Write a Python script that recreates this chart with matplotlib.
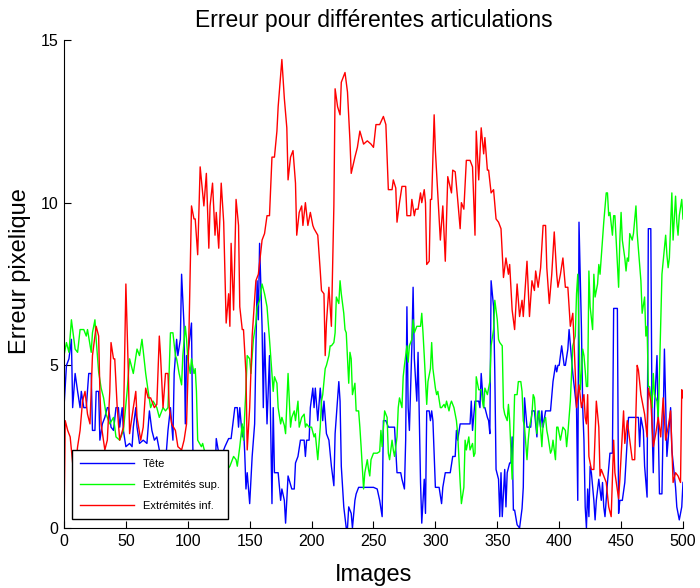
import matplotlib
matplotlib.use('Agg')
import matplotlib.pyplot as plt

plt.rcParams['font.family'] = ['Liberation Sans', 'DejaVu Sans']

# Tete (head) error: image index, pixel error
tete_x = [0, 2, 4, 6, 7, 9, 11, 13, 14, 16, 18, 20, 22, 23, 25, 26, 28, 29, 31, 33,
          35, 36, 38, 40, 42, 44, 45, 47, 48, 50, 53, 55, 56, 58, 59, 61, 64, 67, 69, 71,
          73, 75, 77, 80, 82, 84, 86, 88, 89, 91, 92, 94, 95, 97, 98, 99, 100, 103, 104, 105,
          108, 110, 113, 116, 119, 121, 123, 125, 128, 130, 133, 135, 138, 140, 141, 142, 144, 145, 146, 147,
          148, 150, 152, 154, 156, 157, 158, 160, 161, 162, 164, 166, 168, 169, 170, 173, 175, 176, 178, 179,
          181, 184, 186, 187, 189, 191, 194, 195, 196, 198, 199, 201, 202, 203, 205, 207, 209, 210, 212, 214,
          216, 218, 219, 222, 223, 224, 226, 228, 229, 230, 232, 233, 235, 236, 238, 242, 250, 253, 255, 257,
          258, 260, 262, 267, 269, 272, 273, 275, 276, 277, 278, 279, 281, 282, 283, 285, 286, 288, 289, 291,
          292, 293, 295, 296, 297, 298, 300, 303, 305, 306, 308, 312, 314, 316, 317, 318, 320, 326, 328, 329,
          330, 332, 335, 336, 337, 339, 340, 342, 343, 344, 345, 347, 348, 349, 351, 352, 353, 354, 356, 357,
          358, 360, 361, 362, 363, 364, 366, 368, 370, 371, 372, 374, 375, 377, 378, 380, 382, 383, 385, 386,
          387, 389, 391, 393, 395, 397, 398, 399, 400, 402, 404, 405, 407, 408, 410, 411, 414, 415, 416, 418,
          419, 420, 421, 422, 423, 424, 425, 426, 428, 429, 430, 432, 434, 435, 436, 437, 439, 441, 443, 444,
          446, 447, 448, 449, 451, 453, 455, 456, 458, 461, 464, 465, 466, 468, 469, 471, 472, 474, 475, 476,
          477, 479, 480, 481, 483, 485, 487, 488, 490, 491, 494, 495, 497, 499, 500]
tete_y = [3.7, 5.0, 5.2, 5.8, 3.7, 4.75, 4.2, 3.7, 4.2, 3.7, 3.7, 4.75, 4.75, 3.0, 3.0, 4.2, 4.2, 2.7, 3.2, 3.4,
          3.7, 3.7, 3.1, 3.0, 3.7, 3.7, 3.1, 3.7, 3.0, 2.5, 2.6, 2.5, 3.1, 3.7, 3.1, 2.6, 2.7, 2.6, 3.6, 3.0,
          2.7, 2.8, 2.4, 2.2, 2.0, 3.0, 3.7, 2.7, 4.75, 5.8, 5.3, 5.8, 7.8, 6.2, 3.2, 5.3, 5.3, 6.3, 2.7, 0.35,
          0.5, 0.3, 0.4, 0.3, 0.5, 0.3, 2.75, 2.3, 2.3, 2.5, 2.75, 2.75, 3.7, 3.7, 3.1, 3.7, 2.8, 3.1, 2.3, 1.2,
          1.7, 0.75, 2.2, 3.2, 7.6, 6.4, 8.75, 6.2, 3.7, 6.0, 3.2, 5.3, 0.75, 3.7, 1.7, 1.7, 0.85, 1.2, 0.85, 0.15,
          1.6, 1.2, 1.2, 2.0, 2.2, 2.7, 2.7, 2.2, 2.7, 2.7, 3.7, 4.3, 3.7, 4.3, 3.3, 4.3, 3.3, 3.9, 2.9, 2.7,
          1.9, 1.3, 2.9, 4.5, 3.9, 1.9, 0.65, 0.0, 0.0, 0.65, 0.45, 0.0, 0.85, 1.05, 1.25, 1.25, 1.25, 1.2, 0.85, 0.35,
          3.3, 3.3, 3.1, 3.1, 1.7, 1.7, 1.5, 1.2, 2.7, 6.8, 3.7, 3.0, 5.6, 7.4, 5.2, 3.9, 5.4, 1.4, 0.15, 1.5,
          0.45, 3.6, 3.6, 3.3, 3.6, 3.3, 1.25, 1.25, 0.75, 1.25, 1.7, 1.7, 2.2, 2.2, 3.0, 2.7, 3.2, 3.2, 3.2, 3.9,
          3.0, 3.9, 3.9, 3.7, 4.75, 3.7, 3.7, 3.4, 3.3, 2.9, 7.6, 6.8, 4.75, 1.8, 1.5, 0.35, 1.7, 0.35, 1.8, 0.65,
          1.7, 2.0, 2.0, 2.8, 0.55, 0.55, 0.1, 0.0, 0.6, 1.25, 4.0, 3.1, 3.1, 3.1, 3.6, 3.6, 2.8, 3.6, 3.1, 3.6,
          3.1, 3.6, 3.6, 3.6, 4.5, 5.0, 4.8, 5.0, 5.0, 5.6, 5.0, 5.0, 5.5, 6.1, 5.2, 4.75, 3.7, 0.85, 9.4, 6.1,
          3.7, 2.7, 0.65, 0.0, 1.2, 0.35, 1.9, 1.7, 0.85, 0.25, 0.85, 1.5, 0.85, 1.4, 0.65, 0.35, 1.4, 2.3, 2.3, 6.75,
          6.75, 6.75, 0.45, 0.85, 0.85, 1.4, 2.7, 3.4, 3.4, 3.4, 3.4, 2.5, 3.4, 3.0, 1.9, 0.95, 9.2, 9.2, 3.2, 1.7,
          3.7, 5.3, 3.1, 1.05, 1.05, 5.5, 2.2, 2.7, 3.7, 2.4, 1.25, 0.65, 0.25, 0.65, 1.4]

# Extremites sup. (upper limbs)
sup_x = [0, 2, 4, 6, 7, 9, 11, 13, 15, 16, 18, 19, 22, 23, 25, 26, 28, 30, 32, 34,
         37, 40, 42, 45, 48, 51, 53, 56, 59, 61, 63, 66, 68, 70, 72, 75, 77, 80, 82, 84,
         86, 88, 90, 91, 93, 95, 96, 98, 99, 100, 102, 103, 105, 106, 107, 108, 111, 112, 114, 117,
         120, 125, 130, 132, 134, 137, 139, 140, 142, 144, 145, 147, 148, 150, 151, 153, 155, 156, 158, 160,
         162, 164, 166, 168, 169, 170, 172, 173, 175, 176, 178, 179, 181, 183, 184, 186, 187, 189, 190, 192,
         194, 195, 196, 198, 200, 202, 203, 205, 207, 208, 209, 211, 212, 214, 215, 216, 218, 219, 220, 222,
         223, 224, 226, 227, 228, 230, 231, 232, 233, 235, 236, 238, 239, 240, 242, 243, 245, 246, 247, 248,
         250, 253, 255, 256, 257, 259, 261, 262, 263, 265, 266, 267, 269, 270, 271, 273, 274, 275, 277, 278,
         279, 281, 282, 283, 285, 286, 288, 289, 290, 291, 293, 294, 296, 297, 298, 300, 301, 302, 304, 305,
         307, 308, 309, 311, 312, 313, 315, 316, 317, 318, 320, 321, 323, 324, 325, 327, 328, 330, 331, 332,
         333, 335, 337, 338, 339, 340, 342, 343, 344, 345, 347, 348, 350, 351, 352, 354, 355, 356, 358, 359,
         360, 362, 363, 364, 366, 367, 369, 370, 371, 372, 374, 375, 376, 378, 379, 380, 382, 383, 384, 386,
         387, 389, 390, 391, 393, 394, 395, 397, 398, 399, 401, 402, 403, 405, 406, 407, 409, 410, 411, 413,
         414, 415, 417, 418, 419, 420, 421, 422, 423, 424, 425, 427, 428, 429, 431, 432, 433, 435, 436, 438,
         439, 440, 441, 443, 444, 445, 446, 448, 449, 450, 451, 453, 454, 455, 456, 457, 459, 460, 462, 463,
         465, 466, 467, 469, 470, 471, 472, 473, 475, 476, 477, 479, 480, 481, 483, 484, 486, 487, 488, 489,
         491, 492, 494, 495, 496, 497, 499, 500]
sup_y = [5.3, 5.7, 5.4, 6.4, 6.1, 5.5, 5.4, 6.1, 6.1, 6.1, 5.9, 6.1, 5.4, 6.0, 6.4, 5.8, 4.8, 4.3, 4.0, 3.5,
         3.2, 3.4, 2.8, 2.7, 3.0, 4.2, 5.2, 4.75, 5.5, 5.3, 5.8, 4.75, 4.2, 3.7, 3.9, 3.7, 3.4, 3.7, 3.6, 3.7,
         6.0, 6.0, 5.3, 5.2, 4.75, 4.4, 5.3, 6.2, 5.8, 5.2, 4.75, 5.2, 4.75, 4.9, 4.2, 2.7, 2.5, 2.6, 2.3, 2.2,
         2.0, 2.0, 1.9, 1.8, 1.9, 2.2, 2.1, 1.9, 2.5, 3.2, 2.7, 4.3, 5.3, 5.2, 4.75, 5.8, 6.3, 6.8, 7.0, 7.5,
         7.2, 6.8, 5.8, 4.75, 4.2, 4.65, 4.45, 3.7, 3.2, 3.4, 3.15, 2.9, 4.75, 3.1, 3.4, 3.6, 3.3, 3.9, 3.1, 3.4,
         3.5, 3.1, 3.2, 3.1, 3.1, 2.8, 2.9, 2.1, 3.1, 3.9, 4.1, 4.9, 5.0, 5.3, 5.6, 5.6, 5.7, 6.0, 7.1, 6.9,
         7.6, 7.2, 6.6, 6.1, 6.0, 4.45, 5.4, 5.2, 4.1, 4.45, 3.6, 3.6, 3.1, 2.5, 1.2, 1.7, 2.1, 1.8, 1.6, 2.1,
         2.3, 2.3, 2.35, 3.0, 2.5, 3.6, 3.4, 2.3, 2.1, 2.7, 2.4, 2.2, 2.8, 3.7, 4.0, 3.7, 4.65, 5.0, 5.6, 5.1,
         5.6, 5.8, 6.4, 6.0, 6.2, 6.2, 6.2, 6.6, 6.0, 5.3, 3.8, 4.5, 4.9, 5.7, 4.9, 4.3, 4.1, 4.2, 3.7, 3.7,
         3.8, 3.7, 3.9, 3.6, 3.8, 3.9, 3.7, 3.5, 3.3, 2.9, 1.4, 0.75, 1.25, 2.7, 2.4, 2.8, 2.4, 2.6, 2.2, 2.3,
         4.65, 4.25, 4.25, 3.9, 3.7, 4.3, 4.1, 4.3, 4.5, 5.6, 6.1, 7.0, 6.4, 5.8, 5.7, 5.6, 3.7, 3.5, 3.3, 3.8,
         3.3, 1.5, 2.7, 4.1, 4.1, 4.5, 4.5, 4.2, 3.3, 3.1, 2.1, 2.7, 3.1, 3.5, 4.1, 4.0, 2.9, 3.4, 3.6, 2.5,
         3.2, 3.4, 3.0, 2.8, 2.3, 2.4, 2.7, 2.1, 3.1, 3.1, 2.7, 2.9, 3.1, 3.0, 2.5, 2.9, 3.9, 4.75, 5.6, 5.9,
         7.2, 7.8, 4.25, 4.75, 5.5, 5.3, 4.85, 4.35, 4.35, 7.9, 6.8, 6.1, 7.8, 7.1, 7.5, 8.1, 7.8, 8.85, 9.4, 10.3,
         10.3, 9.6, 9.7, 9.0, 9.6, 9.6, 8.85, 7.4, 8.85, 9.7, 8.85, 8.3, 7.9, 8.3, 8.2, 9.05, 8.85, 9.05, 9.9, 9.05,
         8.1, 7.6, 6.6, 7.1, 5.9, 6.2, 4.35, 4.35, 3.7, 4.75, 4.1, 3.9, 3.4, 4.75, 7.8, 8.2, 9.0, 8.4, 8.0, 8.3,
         10.3, 8.85, 10.2, 9.4, 9.0, 9.6, 10.1, 9.5]

# Extremites inf. (lower limbs)
inf_x = [0, 1, 3, 5, 7, 9, 11, 13, 15, 17, 19, 21, 23, 26, 28, 29, 30, 33, 35, 37,
         38, 40, 41, 43, 45, 48, 50, 52, 53, 56, 58, 59, 62, 64, 66, 68, 70, 73, 75, 77,
         78, 80, 82, 84, 85, 87, 90, 92, 95, 97, 99, 100, 101, 103, 105, 106, 108, 110, 113, 115,
         117, 118, 120, 122, 123, 125, 127, 129, 131, 133, 134, 135, 137, 139, 141, 142, 144, 145, 147, 148,
         150, 152, 155, 157, 160, 162, 164, 166, 168, 170, 172, 173, 176, 178, 180, 181, 183, 185, 187, 188,
         190, 192, 193, 195, 197, 199, 201, 202, 205, 207, 208, 210, 211, 212, 214, 215, 216, 218, 219, 221,
         223, 224, 227, 229, 231, 232, 235, 237, 239, 242, 245, 248, 250, 252, 255, 258, 260, 262, 265, 266,
         268, 269, 271, 273, 276, 277, 280, 281, 283, 284, 286, 288, 289, 291, 292, 293, 295, 296, 297, 299,
         300, 302, 304, 306, 308, 310, 313, 314, 316, 318, 320, 321, 323, 325, 328, 330, 332, 333, 335, 337,
         339, 340, 342, 343, 345, 347, 349, 351, 353, 355, 357, 359, 360, 362, 364, 366, 368, 370, 371, 374,
         376, 378, 380, 381, 383, 385, 387, 389, 390, 392, 394, 396, 398, 399, 401, 403, 405, 407, 409, 411,
         413, 414, 416, 418, 420, 421, 422, 423, 424, 426, 428, 430, 432, 433, 434, 437, 438, 440, 442, 444,
         445, 448, 449, 452, 453, 455, 457, 459, 461, 463, 464, 466, 467, 469, 471, 472, 474, 476, 478, 480,
         482, 484, 486, 488, 490, 492, 494, 496, 498, 499, 500]
inf_y = [0.0, 3.3, 3.0, 2.8, 2.0, 1.8, 2.5, 3.0, 3.9, 4.2, 3.5, 3.2, 5.3, 6.2, 5.9, 4.2, 3.2, 2.4, 2.7, 4.2,
         5.7, 5.2, 5.2, 3.7, 2.7, 3.1, 7.5, 4.75, 2.9, 3.7, 4.2, 3.4, 2.7, 3.1, 4.3, 4.0, 4.0, 3.7, 3.8, 5.9,
         5.3, 3.7, 4.75, 4.75, 3.7, 3.2, 3.0, 2.5, 2.4, 2.7, 3.2, 4.5, 6.1, 9.9, 9.5, 9.5, 8.4, 11.1, 9.9, 10.9,
         8.6, 9.9, 10.6, 9.0, 9.7, 8.6, 10.6, 9.4, 6.3, 7.2, 6.2, 8.75, 6.7, 10.1, 9.3, 6.8, 6.1, 6.1, 4.75, 2.4,
         3.7, 5.9, 7.6, 7.8, 8.85, 9.05, 9.6, 9.6, 11.4, 11.4, 12.2, 12.95, 14.4, 13.2, 12.3, 10.7, 11.4, 11.6, 10.6, 9.0,
         9.7, 9.9, 9.3, 10.0, 9.3, 9.7, 9.3, 9.2, 9.0, 7.9, 7.3, 7.2, 5.3, 6.3, 7.4, 6.8, 6.2, 9.9, 13.5, 12.95,
         12.7, 13.7, 14.0, 13.4, 11.9, 10.9, 11.4, 11.7, 12.2, 11.8, 11.9, 11.8, 11.7, 12.4, 12.4, 12.65, 12.4, 10.4, 10.4, 10.7,
         10.45, 9.4, 10.0, 10.5, 10.5, 9.6, 9.6, 10.1, 9.6, 9.8, 9.8, 10.3, 10.0, 10.4, 10.0, 8.1, 8.2, 10.1, 10.1, 12.7,
         11.6, 10.2, 8.85, 9.9, 8.2, 10.8, 10.3, 11.0, 10.95, 10.1, 9.2, 10.0, 9.8, 11.3, 11.3, 11.1, 9.0, 12.2, 10.7, 12.3,
         11.5, 12.0, 11.0, 11.0, 10.3, 10.4, 9.5, 9.4, 9.2, 7.7, 8.3, 7.8, 8.1, 6.7, 6.1, 7.5, 6.5, 7.0, 6.5, 8.2,
         6.5, 7.6, 7.3, 7.9, 7.4, 8.0, 9.3, 9.3, 8.0, 6.9, 7.8, 9.1, 7.8, 7.4, 7.8, 8.3, 7.4, 7.4, 6.2, 6.6,
         4.75, 3.7, 4.4, 3.7, 4.1, 3.4, 3.2, 4.1, 2.2, 1.8, 1.8, 3.9, 3.1, 1.6, 1.8, 1.5, 1.4, 0.65, 0.35, 2.7,
         1.7, 0.9, 1.5, 3.6, 2.6, 3.3, 2.7, 2.1, 2.1, 5.0, 4.85, 4.1, 3.9, 3.5, 2.8, 4.3, 3.9, 2.5, 2.9, 3.4,
         2.8, 4.0, 2.7, 3.1, 3.6, 1.4, 1.7, 1.6, 1.4, 4.25, 4.0]

fig, ax = plt.subplots(figsize=(7.0, 5.88), dpi=100)
fig.subplots_adjust(left=0.0914, right=0.9757, bottom=0.102, top=0.932)

ax.plot(tete_x, tete_y, color=(0, 0, 1), lw=1.0, label='Tête')
ax.plot(sup_x, sup_y, color=(0, 1, 0), lw=1.0, label='Extrémités sup.')
ax.plot(inf_x, inf_y, color=(1, 0, 0), lw=1.0, label='Extrémités inf.')

ax.set_xlim(0, 500)
ax.set_ylim(0, 15)
ax.set_xticks(range(0, 501, 50))
ax.set_yticks([0, 5, 10, 15])
ax.tick_params(direction='in', length=5, width=0.8, labelsize=11.5, pad=4)
ax.spines['top'].set_visible(False)
ax.spines['right'].set_visible(False)

ax.set_title('Erreur pour différentes articulations', fontsize=16.5, pad=9)
ax.set_xlabel('Images', fontsize=17, labelpad=11)
ax.set_ylabel('Erreur pixelique', fontsize=17)
ax.yaxis.set_label_coords(-0.053, 0.527)

leg = ax.legend(loc='lower left', bbox_to_anchor=(0.013, 0.018), borderaxespad=0,
                fontsize=8, handlelength=4.8, labelspacing=1.0, fancybox=False,
                framealpha=1, edgecolor='black', borderpad=0.75)
leg.get_frame().set_linewidth(1.0)

plt.savefig('out.png', dpi=100)
